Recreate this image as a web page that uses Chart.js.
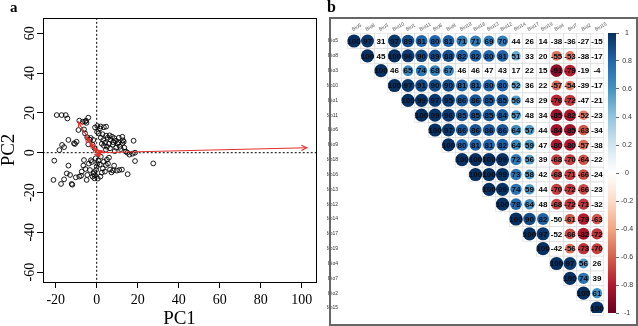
<!DOCTYPE html>
<html>
<head>
<meta charset="utf-8">
<script src="https://cdn.jsdelivr.net/npm/chart.js@4/dist/chart.umd.min.js"></script>
<style>
  html, body { margin: 0; padding: 0; background: #fff; }
  #wrap { position: relative; width: 638px; height: 326px; overflow: hidden; }
  #pca { position: absolute; left: 0; top: 0; }
  #corr { position: absolute; left: 327px; top: 0; }
</style>
</head>
<body>
<div id="wrap">
  <canvas id="pca" width="322" height="326"></canvas>
  <canvas id="corr" width="311" height="326"></canvas>
</div>
<script>
// ---- panel a : PCA ----
const pcaScores = [
  [-19.5, 18.9], [-17.1, 18.9], [-15.1, 18.9], [-14.3, 17.2],
  [-16.9, 3.9], [-15.9, 2.8], [-18.2, 1.3], [-13.8, 6.4], [-11.1, 4.7], [-10.6, 4.4], [-9.8, 5.5],
  [-20.7, -4], [-13.8, -6.5], [-21.1, -13.7], [-17.4, -15.7], [-15.9, -13.4], [-14.6, -10.4],
  [-13, -11.2], [-12.2, -15.7], [-11.9, -16.1], [-10.2, -12.4], [-7.6, -11.6], [-7.3, -9.5],
  [-6.5, -6.5], [-6.2, -3.7], [-4.9, -13.7], [-4.6, -11.2], [-3.3, -8.7], [-2.4, -4.7],
  [-2, -12], [-1.6, -10.7], [-1.1, -12.9], [-0.8, -11.4], [-0.3, -8.7], [0, -7], [0.3, -5.4],
  [-0.5, -2.8], [-5.5, -8.2], [-8.5, -12], [-3.8, -5.5], [-1.3, -9.8], [0.8, -4], [-2.8, -3.8],
  [-8.5, 16.1], [-6.8, 15.6], [-5.7, 15.6], [-5.2, 16.1], [-4.1, 17.6], [-5, 15], [-8.9, 11.4],
  [-6.2, 11.7], [-5.7, 9.7], [-4.6, 7.7], [-4.1, 4.2], [-2.9, 7.4], [-1.6, 6.4], [-0.8, 12.7],
  [0.3, 13.4], [1.9, 13.2], [1.6, 12.2], [4.6, 13.1], [1, 9.7], [0.2, 10.5], [-3.3, 6.5],
  [-2, 4], [-1, 2.2],
  [2, 7.5], [3.2, 6.3], [4.1, 5], [4.6, 8.6], [5.4, 7.5], [6.3, 8.7], [6.7, 6.5], [7.5, 8],
  [8.1, 5.3], [8.6, 7.3], [9.4, 6], [10.2, 4.5], [10.6, 5.2], [11.3, 3], [12.5, 8], [12.8, 6.2],
  [12.6, 4.8], [13.5, 2.5], [14.2, 0.6], [15, 0], [16, -1], [17.5, -0.5], [18, 6], [18.7, 0],
  [5, 3], [6.5, 2.2], [3.5, 3.5], [7.8, 4], [9.5, 2.5], [11.8, 1.8], [8.8, 0.8], [4.5, 1.5],
  [2.5, 4.5], [6, 4.5], [13.2, 5.5], [10.8, 7.5], [2.8, 9.3], [3.5, 12.8],
  [18.7, -4.2], [15.1, -10.8], [27.6, -5.4], [2, -2], [3.5, -4.5], [4.5, -6.2], [5.5, -5.5],
  [6.5, -8.5], [7.2, -9.9], [8, -9], [9.8, -9], [11, -8.7], [12.3, -8.5], [5, -3.5], [3, -8],
  [1.5, -6], [2.5, -10], [1.8, -12], [0.5, -13], [6, -2.5], [8.5, -6.5], [4, -9.5]
];
const pcaLoadings = [
  [102.5, 2.5], [-9, 15.5], [-5.5, 8], [-3, 5], [-1.5, 3], [2, -1], [2.5, 1], [1.5, -2], [3, 0.5]
];
const pcaXTicks = [-20, 0, 20, 40, 60, 80, 100];
const pcaYTicks = [-60, -40, -20, 0, 20, 40, 60];

// ---- panel b : correlation matrix ----
const bioVars = ['Bio5', 'Bio8', 'Bio3', 'Bio10', 'Bio1', 'Bio11', 'Bio6', 'Bio9', 'Bio18', 'Bio16',
  'Bio13', 'Bio12', 'Bio14', 'Bio17', 'Bio19', 'Bio4', 'Bio7', 'Bio2', 'Bio15'];
// upper triangle, each row starts on the diagonal
const corrRows = [
  [100, 97, 31, 97, 89, 81, 80, 81, 71, 71, 69, 70, 44, 26, 14, -38, -36, -27, -15],
  [100, 45, 100, 96, 90, 89, 88, 82, 82, 80, 81, 51, 33, 20, -55, -53, -38, -17],
  [100, 46, 65, 74, 68, 67, 46, 46, 47, 43, 17, 22, 15, -91, -79, -19, -4],
  [100, 97, 91, 90, 90, 81, 81, 80, 80, 52, 36, 22, -57, -54, -39, -17],
  [100, 99, 97, 95, 86, 86, 85, 85, 56, 43, 29, -76, -72, -47, -21],
  [100, 99, 96, 85, 85, 85, 84, 57, 48, 34, -85, -82, -52, -23],
  [100, 97, 86, 86, 86, 86, 64, 57, 44, -84, -85, -63, -34],
  [100, 80, 81, 81, 82, 64, 59, 47, -80, -80, -57, -38],
  [100, 100, 100, 99, 72, 56, 39, -68, -70, -64, -22],
  [100, 100, 99, 73, 58, 42, -68, -71, -66, -24],
  [100, 99, 74, 59, 44, -70, -72, -66, -23],
  [100, 78, 64, 48, -68, -72, -71, -32],
  [100, 90, 82, -50, -61, -79, -63],
  [100, 97, -52, -66, -82, -72],
  [100, -42, -56, -73, -70],
  [100, 97, 56, 26],
  [100, 74, 39],
  [100, 61],
  [100]
];
// pairs shown as plain numbers although above the cut
const notSignificant = [['Bio17', 'Bio4']];
const circleCut = 50;
const colorbarTicks = [-1, -0.8, -0.6, -0.4, -0.2, 0, 0.2, 0.4, 0.6, 0.8, 1];
const rdbu = ['#67001F', '#B2182B', '#D6604D', '#F4A582', '#FDDBC7', '#FFFFFF',
  '#D1E5F0', '#92C5DE', '#4393C3', '#2166AC', '#053061'];

function hexRgb(h) {
  return [1, 3, 5].map(i => parseInt(h.substr(i, 2), 16));
}
function corrColor(v) {
  const t = (v + 1) / 2 * 10;
  const i = Math.min(9, Math.max(0, Math.floor(t)));
  const f = t - i;
  const a = hexRgb(rdbu[i]), b = hexRgb(rdbu[i + 1]);
  const c = a.map((x, k) => Math.round(x + (b[k] - x) * f));
  return `rgb(${c[0]},${c[1]},${c[2]})`;
}

const serif = '"Liberation Serif", "Times New Roman", serif';
const sans = '"Liberation Sans", Arial, sans-serif';

// ---------- PCA chart ----------
const pcaPlugin = {
  id: 'pcaExtras',
  afterDatasetsDraw(chart) {
    const { ctx, scales: { x, y } } = chart;
    ctx.save();
    ctx.strokeStyle = '#e0322d';
    ctx.lineWidth = 1.1;
    const x0 = x.getPixelForValue(0), y0 = y.getPixelForValue(0);
    pcaLoadings.forEach(([lx, ly]) => {
      const x1 = x.getPixelForValue(lx), y1 = y.getPixelForValue(ly);
      const ang = Math.atan2(y1 - y0, x1 - x0);
      const len = 6;
      ctx.beginPath();
      ctx.moveTo(x1 - len * Math.cos(ang - 0.45), y1 - len * Math.sin(ang - 0.45));
      ctx.lineTo(x1, y1);
      ctx.lineTo(x1 - len * Math.cos(ang + 0.45), y1 - len * Math.sin(ang + 0.45));
      ctx.stroke();
    });
    ctx.restore();
  },
  afterDraw(chart) {
    const { ctx, chartArea: a, scales: { y } } = chart;
    ctx.save();
    ctx.strokeStyle = '#000';
    ctx.lineWidth = 1;
    ctx.strokeRect(Math.round(a.left) + 0.5, Math.round(a.top) + 0.5,
      Math.round(a.right - a.left), Math.round(a.bottom - a.top));
    ctx.fillStyle = '#000';
    ctx.font = '14px ' + serif;
    ctx.textAlign = 'center';
    ctx.textBaseline = 'middle';
    pcaYTicks.forEach(v => {
      ctx.save();
      ctx.translate(30, y.getPixelForValue(v));
      ctx.rotate(-Math.PI / 2);
      ctx.fillText(String(v), 0, 0);
      ctx.restore();
    });
    ctx.font = 'bold 15px ' + serif;
    ctx.textAlign = 'left';
    ctx.textBaseline = 'alphabetic';
    ctx.fillText('a', 10, 12);
    ctx.restore();
  }
};

const pcaDatasets = [];
pcaLoadings.forEach(([lx, ly]) => {
  pcaDatasets.push({
    type: 'line', data: [{ x: 0, y: 0 }, { x: lx, y: ly }],
    borderColor: '#e0322d', borderWidth: 1.1, pointRadius: 0, order: 0
  });
});
pcaDatasets.push({
  type: 'scatter',
  data: pcaScores.map(([x, y]) => ({ x, y })),
  pointRadius: 2.4, pointBorderColor: '#000', pointBorderWidth: 0.9,
  pointBackgroundColor: 'rgba(0,0,0,0)', order: 1
});
pcaDatasets.push({
  type: 'line', data: [{ x: 0, y: -80 }, { x: 0, y: 80 }],
  borderColor: '#000', borderWidth: 1, borderDash: [2, 2], pointRadius: 0, order: 2
});
pcaDatasets.push({
  type: 'line', data: [{ x: -40, y: 0 }, { x: 120, y: 0 }],
  borderColor: '#000', borderWidth: 1, borderDash: [2, 2], pointRadius: 0, order: 2
});

new Chart(document.getElementById('pca'), {
  type: 'scatter',
  data: { datasets: pcaDatasets },
  options: {
    responsive: false,
    animation: false,
    events: [],
    layout: { padding: { top: 18, right: 6, left: 0, bottom: 0 } },
    plugins: { legend: { display: false }, tooltip: { enabled: false } },
    scales: {
      x: {
        type: 'linear', min: -26.2, max: 107,
        afterBuildTicks: s => { s.ticks = pcaXTicks.map(v => ({ value: v })); },
        afterFit: s => { s.height = 44; },
        grid: { drawOnChartArea: false, drawTicks: true, tickLength: 6, color: '#000' },
        border: { display: false },
        ticks: { color: '#000', font: { family: serif, size: 14 }, padding: 4, maxRotation: 0, autoSkip: false },
        title: { display: true, text: 'PC1', color: '#000', font: { family: serif, size: 19, lineHeight: 0.7 }, padding: { top: 0, bottom: 0 } }
      },
      y: {
        type: 'linear', min: -65, max: 67.7,
        afterBuildTicks: s => { s.ticks = pcaYTicks.map(v => ({ value: v })); },
        afterFit: s => { s.width = 43; },
        grid: { drawOnChartArea: false, drawTicks: true, tickLength: 6, color: '#000' },
        border: { display: false },
        ticks: { display: false },
        title: { display: true, text: 'PC2', color: '#000', font: { family: serif, size: 19, lineHeight: 1 }, padding: { top: 0, bottom: 0 } }
      }
    }
  },
  plugins: [pcaPlugin]
});

// ---------- correlation chart ----------
const corrCells = [];
corrRows.forEach((row, i) => {
  row.forEach((v, k) => {
    const j = i + k;
    const skip = notSignificant.some(([a, b]) => a === bioVars[i] && b === bioVars[j]);
    corrCells.push({ x: j, y: i, v: v, circle: Math.abs(v) > circleCut && !skip });
  });
});

const corrPlugin = {
  id: 'corrExtras',
  beforeDatasetsDraw(chart) {
    const { ctx, scales: { x, y, cb } } = chart;
    const w = (x.getPixelForValue(1) - x.getPixelForValue(0)) / 2;
    const h = (y.getPixelForValue(1) - y.getPixelForValue(0)) / 2;
    ctx.save();
    ctx.strokeStyle = '#dcdcdc';
    ctx.lineWidth = 0.6;
    corrCells.forEach(c => {
      const px = x.getPixelForValue(c.x), py = y.getPixelForValue(c.y);
      ctx.strokeRect(px - w, py - h, 2 * w, 2 * h);
    });
    // colour bar
    const top = cb.getPixelForValue(1), bot = cb.getPixelForValue(-1);
    const g = ctx.createLinearGradient(0, bot, 0, top);
    rdbu.forEach((c, i) => g.addColorStop(i / 10, c));
    ctx.fillStyle = g;
    ctx.fillRect(cb.left - 8, top, 8, bot - top);
    ctx.restore();
  },
  afterDatasetsDraw(chart) {
    const { ctx, scales: { x, y } } = chart;
    ctx.save();
    ctx.textAlign = 'center';
    ctx.textBaseline = 'middle';
    corrCells.forEach(c => {
      ctx.font = 'bold 8px ' + sans;
      ctx.fillStyle = c.circle ? '#0b0b14' : '#000';
      ctx.fillText(String(c.v), x.getPixelForValue(c.x), y.getPixelForValue(c.y) + 0.5);
    });
    ctx.restore();
  },
  afterDraw(chart) {
    const { ctx, scales: { x } } = chart;
    ctx.save();
    ctx.fillStyle = '#555';
    ctx.font = '5px ' + sans;
    ctx.textAlign = 'left';
    ctx.textBaseline = 'alphabetic';
    bioVars.forEach((b, j) => {
      ctx.save();
      ctx.translate(x.getPixelForValue(j) - 1, 31);
      ctx.rotate(-0.5);
      ctx.fillText(b, 0, 0);
      ctx.restore();
    });
    ctx.strokeStyle = '#666';
    ctx.lineWidth = 2;
    ctx.strokeRect(3, 18, 307, 307);
    ctx.fillStyle = '#000';
    ctx.font = 'bold 16px ' + serif;
    ctx.fillText('b', 0, 12);
    ctx.restore();
  }
};

new Chart(document.getElementById('corr'), {
  type: 'bubble',
  data: {
    datasets: [{
      data: corrCells.filter(c => c.circle).map(c => ({ x: c.x, y: c.y, r: 6.6 * Math.sqrt(Math.abs(c.v) / 100), v: c.v })),
      backgroundColor: ctx => corrColor((ctx.raw ? ctx.raw.v : 0) / 100),
      borderWidth: 0
    }]
  },
  options: {
    responsive: false,
    animation: false,
    events: [],
    layout: { padding: { top: 33, bottom: 13, left: 0, right: 0 } },
    plugins: { legend: { display: false }, tooltip: { enabled: false } },
    scales: {
      x: { type: 'linear', display: false, min: -0.519, max: 19.407 },
      y: {
        type: 'linear', reverse: true, min: -0.539, max: 18.337, position: 'left',
        afterBuildTicks: s => { s.ticks = bioVars.map((_, i) => ({ value: i })); },
        afterFit: s => { s.width = 20; },
        grid: { display: false },
        border: { display: false },
        ticks: { autoSkip: false, color: '#333', font: { family: sans, size: 5 }, padding: 1,
          callback: v => bioVars[v] }
      },
      cb: {
        type: 'linear', position: 'right', min: -1, max: 1,
        afterBuildTicks: s => { s.ticks = colorbarTicks.map(v => ({ value: v })); },
        afterFit: s => { s.width = 22; },
        grid: { drawOnChartArea: false, drawTicks: true, tickLength: 3, color: '#666' },
        border: { display: false },
        ticks: { autoSkip: false, color: '#333', font: { family: sans, size: 7 }, padding: 2,
          crossAlign: 'center', callback: v => String(v) }
      }
    }
  },
  plugins: [corrPlugin]
});
</script>
</body>
</html>
